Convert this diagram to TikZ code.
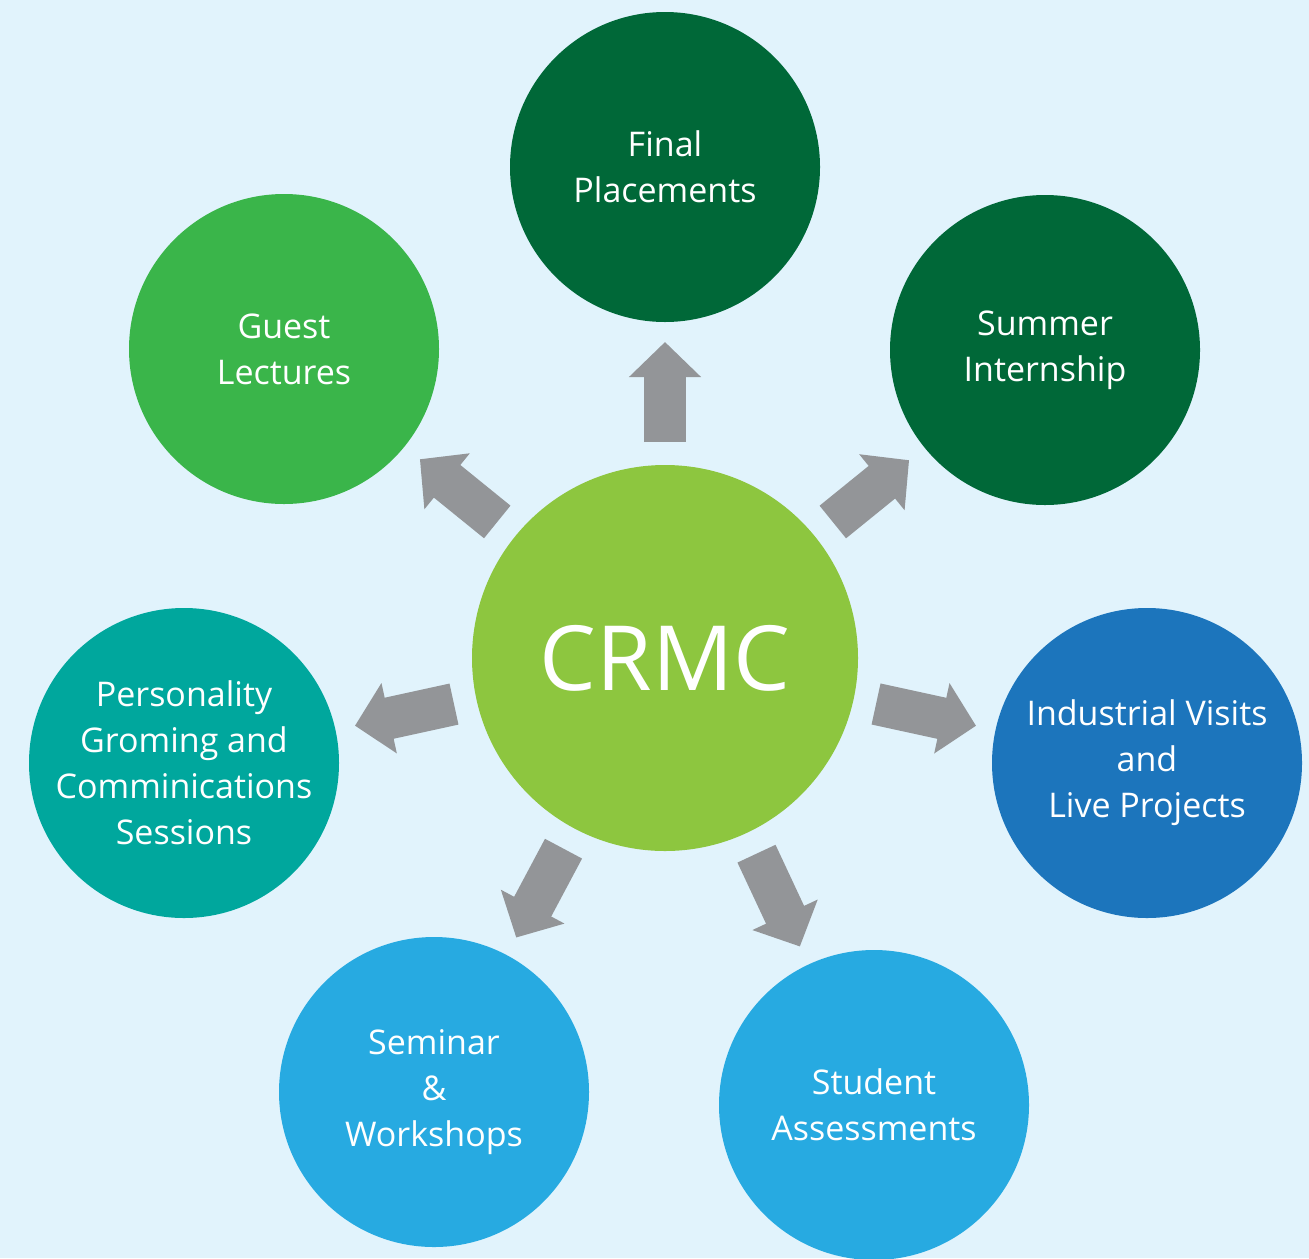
\documentclass[tikz,border=0pt]{standalone}
\usepackage{fontspec}
\setmainfont{Open Sans}
\usetikzlibrary{arrows.meta}
\definecolor{bgblue}{HTML}{E1F3FC}
\definecolor{hubgreen}{HTML}{8DC63F}
\definecolor{darkgreen}{HTML}{006838}
\definecolor{midgreen}{HTML}{3AB54A}
\definecolor{tealgreen}{HTML}{00A79D}
\definecolor{deepblue}{HTML}{1C75BC}
\definecolor{skyblue}{HTML}{27AAE1}
\definecolor{arrowgray}{HTML}{939598}
\begin{document}
\begin{tikzpicture}
[x=0.5pt, y=-0.5pt, font=\fontsize{17}{23}\selectfont]
\tikzstyle{bubble}=[circle, inner sep=0pt, outer sep=0pt, minimum size=155pt, text=white, align=center]
\tikzstyle{hub}=[bubble, minimum size=193pt, fill=hubgreen, font=\fontsize{45}{50}\selectfont]
\tikzstyle{blockarrow}=[line width=21pt, arrowgray, shorten <=11.5pt, shorten >=10pt, -{Triangle[width=35pt, length=17.5pt]}]

\fill[bgblue] (0,0) rectangle (1309,1258);
\useasboundingbox (0,0) rectangle (1309,1258);

\node[hub]	(CRMC)	at (665,658)	{CRMC};
\node[bubble, fill=darkgreen]	(FP)	at (665,167)	{Final\\Placements};
\node[bubble, fill=darkgreen]	(SI)	at (1045,350)	{Summer\\Internship};
\node[bubble, fill=deepblue]	(IV)	at (1147,763)	{Industrial Visits\\and\\Live Projects};
\node[bubble, fill=skyblue]	(SA)	at (874,1105)	{Student\\Assessments};
\node[bubble, fill=skyblue]	(SW)	at (434,1092)	{Seminar\\\&\\Workshops};
\node[bubble, fill=tealgreen]	(PG)	at (184,763)	{Personality\\Groming and\\Comminications\\Sessions};
\node[bubble, fill=midgreen]	(GL)	at (284,349)	{Guest\\Lectures};

\draw[blockarrow]	(CRMC)--(FP);
\draw[blockarrow]	(CRMC)--(SI);
\draw[blockarrow]	(CRMC)--(IV);
\draw[blockarrow]	(CRMC)--(SA);
\draw[blockarrow]	(CRMC)--(SW);
\draw[blockarrow]	(CRMC)--(PG);
\draw[blockarrow]	(CRMC)--(GL);

\end{tikzpicture}
\end{document}
